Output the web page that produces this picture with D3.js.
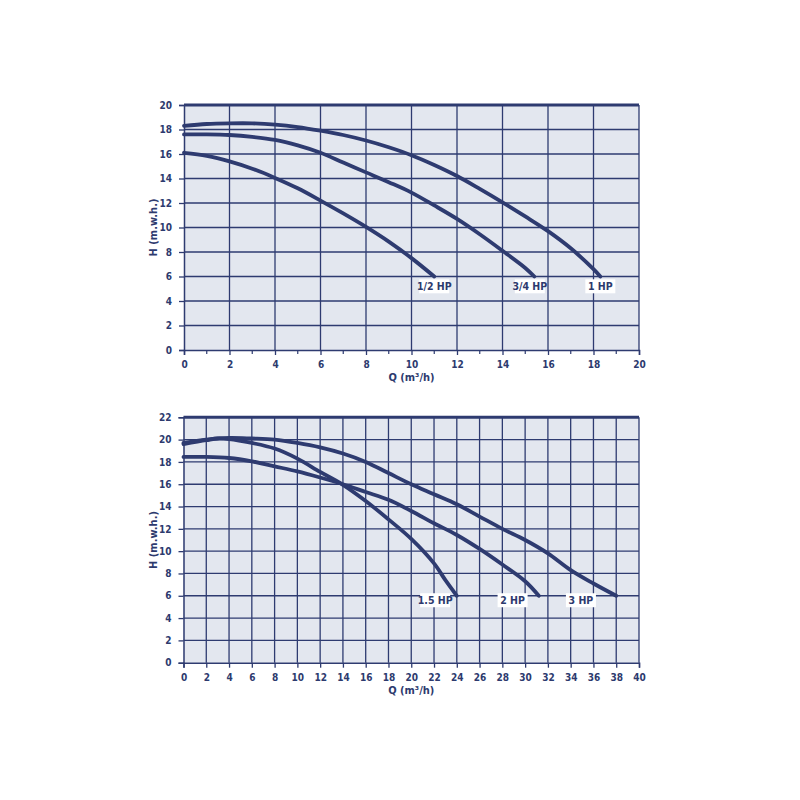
<!DOCTYPE html>
<html>
<head>
<meta charset="utf-8">
<script src="https://cdn.jsdelivr.net/npm/d3@7"></script>
<style>
  body { margin: 0; background: #fff; }
  svg text { font-family: "DejaVu Sans", sans-serif; font-stretch: condensed; font-weight: bold; fill: #2d3a6e; }
</style>
</head>
<body>
<svg id="chart" width="800" height="800"></svg>
<script>
// top chart: 1/2, 3/4, 1 HP
const qTop = [0, 1, 2, 3, 4, 5, 6, 7, 8, 9, 10, 11, 12, 13, 14, 15, 16, 17, 18, 18.3];
const hHalf = [16.1, 15.85, 15.4, 14.8, 14.05, 13.2, 12.2, 11.15, 10.05, 8.85, 7.5, 6.0];
const hThreeQ = [17.6, 17.6, 17.55, 17.4, 17.15, 16.7, 16.1, 15.3, 14.5, 13.7, 12.85, 11.8, 10.7, 9.45, 8.1, 6.7, 6.0];
const qThreeQEnd = 15.4;
const hOne = [18.3, 18.45, 18.5, 18.5, 18.4, 18.2, 17.9, 17.55, 17.1, 16.55, 15.9, 15.1, 14.2, 13.15, 12.05, 10.9, 9.7, 8.3, 6.6, 6.0];

// bottom chart: 1.5, 2, 3 HP
const q15 = [0, 2, 3, 4, 6, 8, 10, 12, 14, 16, 18, 20, 22, 23, 24];
const h15 = [19.6, 19.95, 20.1, 20.05, 19.7, 19.2, 18.3, 17.1, 15.95, 14.5, 12.85, 11.1, 8.9, 7.4, 6.0];
const q2 = [0, 2, 4, 6, 8, 10, 12, 14, 16, 18, 20, 22, 24, 26, 28, 30, 31.2];
const h2 = [18.45, 18.45, 18.35, 18.05, 17.6, 17.15, 16.6, 16.0, 15.3, 14.6, 13.6, 12.5, 11.45, 10.2, 8.8, 7.3, 6.0];
const q3 = [0, 2, 4, 6, 8, 10, 12, 14, 16, 18, 20, 22, 24, 26, 28, 30, 32, 34, 36, 38];
const h3 = [19.7, 20.0, 20.15, 20.1, 20.0, 19.7, 19.3, 18.75, 18.0, 17.0, 16.0, 15.1, 14.2, 13.1, 12.0, 11.0, 9.8, 8.3, 7.1, 6.0];

const topLabels = ['1/2 HP', '3/4 HP', '1 HP'];
const topLabelQ = [11.0, 15.2, 18.3];
const bottomLabels = ['1.5 HP', '2 HP', '3 HP'];
const bottomLabelQ = [22.1, 28.9, 34.9];

const topXTicks = d3.range(0, 21, 2);
const topYTicks = d3.range(0, 21, 2);
const bottomXTicks = d3.range(0, 41, 2);
const bottomYTicks = d3.range(0, 23, 2);

const navy = '#2e3b70';
const svg = d3.select('#chart');

function zip(qs, hs) {
  return hs.map((h, i) => [qs[i], h]);
}

function drawChart(opt) {
  const { x, y, xTicks, yTicks, minorX, series, labels, labelH, titleY } = opt;
  const g = svg.append('g');
  const [x0, x1] = x.range();
  const [y0, y1] = y.range();

  g.append('rect')
    .attr('x', x0).attr('y', y1)
    .attr('width', x1 - x0).attr('height', y0 - y1)
    .attr('fill', '#e3e7ef');

  // grid
  g.selectAll('.vgrid').data(xTicks.filter(d => d > 0)).enter().append('line')
    .attr('x1', d => x(d)).attr('x2', d => x(d))
    .attr('y1', y1).attr('y2', y0)
    .attr('stroke', navy).attr('stroke-width', 1.3);
  g.selectAll('.hgrid').data(yTicks.filter(d => d > 0)).enter().append('line')
    .attr('x1', x0).attr('x2', x1)
    .attr('y1', d => y(d)).attr('y2', d => y(d))
    .attr('stroke', navy).attr('stroke-width', 1.3);
  // thick top frame
  g.append('line').attr('x1', x0).attr('x2', x1).attr('y1', y1).attr('y2', y1)
    .attr('stroke', navy).attr('stroke-width', 3);

  // axes
  const xAxis = g.append('g')
    .attr('transform', `translate(0,${y0})`)
    .call(d3.axisBottom(x).tickValues(xTicks).tickSize(5).tickPadding(6).tickFormat(d3.format('d')));
  if (minorX) {
    xAxis.selectAll('.minor').data(minorX).enter().append('line')
      .attr('x1', d => x(d)).attr('x2', d => x(d))
      .attr('y1', 0).attr('y2', 4)
      .attr('stroke', navy).attr('stroke-width', 1.2);
  }
  const yAxis = g.append('g')
    .attr('transform', `translate(${x0},0)`)
    .call(d3.axisLeft(y).tickValues(yTicks).tickSize(5).tickPadding(7).tickFormat(d3.format('d')));
  [xAxis, yAxis].forEach(a => {
    a.select('.domain').attr('stroke', navy).attr('stroke-width', 1.5);
    a.selectAll('.tick line').attr('stroke', navy).attr('stroke-width', 1.3);
    a.selectAll('.tick text').style('font-size', '10px');
  });

  // curves
  const line = d3.line().x(d => x(d[0])).y(d => y(d[1])).curve(d3.curveCatmullRom.alpha(0.5));
  series.forEach(s => {
    g.append('path').datum(s)
      .attr('d', line)
      .attr('fill', 'none')
      .attr('stroke', navy)
      .attr('stroke-width', 3.8)
      .attr('stroke-linecap', 'round');
  });

  // labels
  labels.forEach(l => {
    const cx = x(l.q), cy = y(labelH);
    g.append('rect')
      .attr('x', cx - 15).attr('y', cy - 7)
      .attr('width', 30).attr('height', 14)
      .attr('fill', '#fff');
    g.append('text')
      .attr('x', cx).attr('y', cy + 4)
      .attr('text-anchor', 'middle')
      .style('font-size', '10.5px')
      .text(l.name);
  });

  // titles
  g.append('text')
    .attr('transform', `translate(${x0 - 27},${(y0 + y1) / 2}) rotate(-90)`)
    .attr('text-anchor', 'middle')
    .style('font-size', '11px')
    .text('H (m.w.h.)');
  g.append('text')
    .attr('x', (x0 + x1) / 2).attr('y', titleY)
    .attr('text-anchor', 'middle')
    .style('font-size', '11px')
    .text('Q (m³/h)');
}

const xTop = d3.scaleLinear().domain([0, 20]).range([184, 639]);
const yTop = d3.scaleLinear().domain([0, 20]).range([350, 105]);
drawChart({
  x: xTop, y: yTop,
  xTicks: topXTicks, yTicks: topYTicks,
  minorX: d3.range(1, 20, 2),
  series: [
    zip(qTop, hHalf),
    zip(qTop.slice(0, 16).concat([qThreeQEnd]), hThreeQ),
    zip(qTop, hOne)
  ],
  labels: topLabels.map((n, i) => ({ name: n, q: topLabelQ[i] })),
  labelH: 5.2,
  titleY: 381
});

const xBot = d3.scaleLinear().domain([0, 40]).range([183.5, 639]);
const yBot = d3.scaleLinear().domain([0, 22]).range([662.7, 417.3]);
drawChart({
  x: xBot, y: yBot,
  xTicks: bottomXTicks, yTicks: bottomYTicks,
  minorX: null,
  series: [zip(q15, h15), zip(q2, h2), zip(q3, h3)],
  labels: bottomLabels.map((n, i) => ({ name: n, q: bottomLabelQ[i] })),
  labelH: 5.6,
  titleY: 694
});
</script>
</body>
</html>
